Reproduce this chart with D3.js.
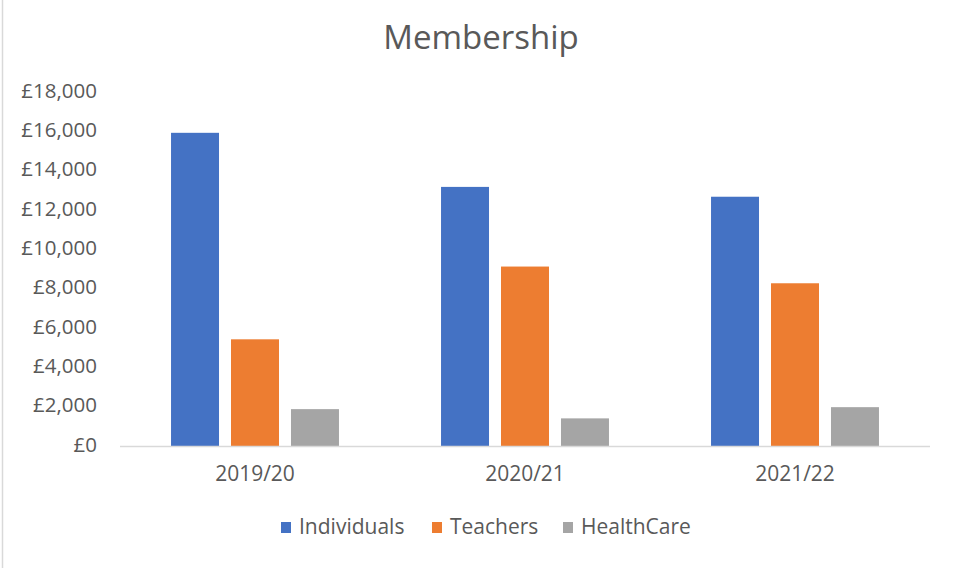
<!DOCTYPE html>
<html>
<head>
<meta charset="utf-8">
<script src="https://cdn.jsdelivr.net/npm/d3@7"></script>
<style>
  html, body { margin: 0; padding: 0; background: #fff; }
  svg { display: block; font-family: "Open Sans", "Liberation Sans", sans-serif; }
</style>
</head>
<body>
<svg id="chart" width="960" height="568"></svg>
<script>
// Membership income by year and category
const years = ["2019/20", "2020/21", "2021/22"];
const seriesNames = ["Individuals", "Teachers", "HealthCare"];
const individuals = [15950, 13200, 12700];
const teachers = [5450, 9150, 8300];
const healthCare = [1900, 1430, 2000];
const yTicks = [0, 2000, 4000, 6000, 8000, 10000, 12000, 14000, 16000, 18000];
const colors = ["#4472C4", "#ED7D31", "#A5A5A5"];

const seriesValues = [individuals, teachers, healthCare];
const rows = years.map((y, i) => ({
  year: y,
  values: seriesNames.map((s, j) => ({ key: s, value: seriesValues[j][i] }))
}));

const svg = d3.select("#chart");
const margin = { left: 120, right: 30, top: 92.5, bottom: 121.5 };
const W = 960, H = 568;
const textColor = "#595959";

// thin frame line at left edge
svg.append("line")
  .attr("x1", 2.5).attr("x2", 2.5).attr("y1", 0).attr("y2", H)
  .attr("stroke", "#d9d9d9").attr("stroke-width", 1.5);

const x0 = d3.scaleBand()
  .domain(years)
  .range([margin.left, W - margin.right])
  .paddingInner(0.378)
  .paddingOuter(0.189);

const x1 = d3.scaleBand()
  .domain(seriesNames)
  .range([0, x0.bandwidth()])
  .paddingInner(0.2)
  .paddingOuter(0);

const y = d3.scaleLinear()
  .domain([0, 18000])
  .range([H - margin.bottom, margin.top]);

const color = d3.scaleOrdinal().domain(seriesNames).range(colors);

// title
svg.append("text")
  .attr("x", 481).attr("y", 49)
  .attr("text-anchor", "middle")
  .attr("font-size", 33)
  .attr("fill", textColor)
  .text("Membership");

// y axis
const fmt = v => "£" + d3.format(",")(v);
const yAxis = svg.append("g")
  .attr("transform", `translate(${margin.left},0)`)
  .call(d3.axisLeft(y).tickValues(yTicks).tickFormat(fmt).tickSize(0).tickPadding(23));
yAxis.select(".domain").remove();
yAxis.selectAll("text")
  .attr("font-size", 20.5).attr("fill", textColor).attr("font-family", "Open Sans")
  .attr("dy", "0.22em");

// bars
const groups = svg.append("g").selectAll("g")
  .data(rows).join("g")
  .attr("transform", d => `translate(${x0(d.year)},0)`);

groups.selectAll("rect")
  .data(d => d.values).join("rect")
  .attr("x", d => x1(d.key))
  .attr("width", x1.bandwidth())
  .attr("y", d => y(d.value))
  .attr("height", d => y(0) - y(d.value))
  .attr("fill", d => color(d.key));

// x axis
const xAxis = svg.append("g")
  .attr("transform", `translate(0,${y(0)})`)
  .call(d3.axisBottom(x0).tickSize(0).tickPadding(20));
xAxis.select(".domain").attr("stroke", "#d9d9d9").attr("stroke-width", 1.5)
  .attr("d", `M${margin.left},0H${W - margin.right}`);
xAxis.selectAll("text").attr("font-size", 21).attr("fill", textColor).attr("font-family", "Open Sans");

// legend
const legendX = [281, 432, 563];
const legend = svg.append("g").selectAll("g")
  .data(seriesNames).join("g")
  .attr("transform", (d, i) => `translate(${legendX[i]},527)`);
legend.append("rect")
  .attr("x", 0).attr("y", -5).attr("width", 10).attr("height", 11)
  .attr("fill", d => color(d));
legend.append("text")
  .attr("x", 18).attr("y", 0).attr("dy", "0.35em")
  .attr("font-size", 21).attr("fill", textColor)
  .text(d => d);
</script>
</body>
</html>
